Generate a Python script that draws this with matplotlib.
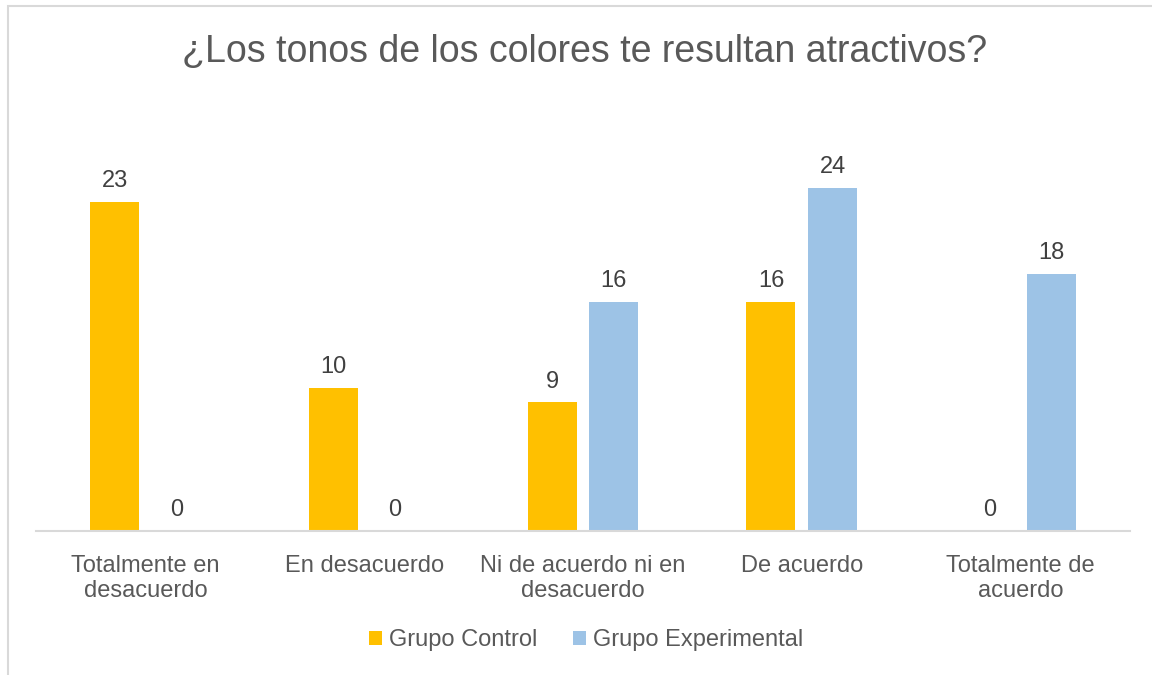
import matplotlib
matplotlib.use("Agg")
import matplotlib.pyplot as plt
import numpy as np
from matplotlib.patches import Rectangle

categories = ["Totalmente en\ndesacuerdo", "En desacuerdo", "Ni de acuerdo ni en\ndesacuerdo",
              "De acuerdo", "Totalmente de\nacuerdo"]
control = [23, 10, 9, 16, 0]
experimental = [0, 0, 16, 24, 18]
series_names = ["Grupo Control", "Grupo Experimental"]
title = "¿Los tonos de los colores te resultan atractivos?"

plt.rcParams['font.family'] = ['Liberation Sans', 'DejaVu Sans']

fig = plt.figure(figsize=(11.52, 6.75), dpi=100)
W, H = 1152, 675
# chart border
fig.patches.append(Rectangle((7.5 / W, -0.1), 1.2, 1 - 5.5 / H + 0.1, transform=fig.transFigure,
                             fill=False, edgecolor="#D9D9D9", linewidth=1.5))

ax = fig.add_axes([36 / W, (H - 531) / H, (1130 - 36) / W, (531 - 102) / H])
x = np.arange(len(categories))
bw = 0.224
off = 0.141
b1 = ax.bar(x - off, control, bw, color="#FFC000", label=series_names[0])
b2 = ax.bar(x + off, experimental, bw, color="#9DC3E6", label=series_names[1])
for bars, vals in ((b1, control), (b2, experimental)):
    for rect, v in zip(bars, vals):
        ax.annotate(str(v), (rect.get_x() + rect.get_width() / 2, v), xytext=(0, 7),
                    textcoords="offset points", ha="center", va="bottom",
                    fontsize=17, color="#404040")
ax.set_xlim(-0.5, len(categories) - 0.5)
ax.set_ylim(0, 30)
ax.set_yticks([])
ax.set_xticks(x)
ax.set_xticklabels(categories, fontsize=17, color="#595959", linespacing=1.18)
ax.tick_params(axis="x", length=0, pad=17)
for s in ("top", "right", "left"):
    ax.spines[s].set_visible(False)
ax.spines["bottom"].set_color("#D9D9D9")
ax.spines["bottom"].set_linewidth(1.5)

fig.text(585 / W, 1 - 52 / H, title, ha="center", va="center", fontsize=27, color="#595959")

leg = fig.legend(handles=[b1, b2], loc="center", bbox_to_anchor=(586 / W, 1 - 640 / H), ncol=2,
                 frameon=False, fontsize=17, handlelength=0.55, handleheight=0.55,
                 handletextpad=0.3, columnspacing=1.5)
for t in leg.get_texts():
    t.set_color("#595959")

fig.savefig("out.png", dpi=100)
